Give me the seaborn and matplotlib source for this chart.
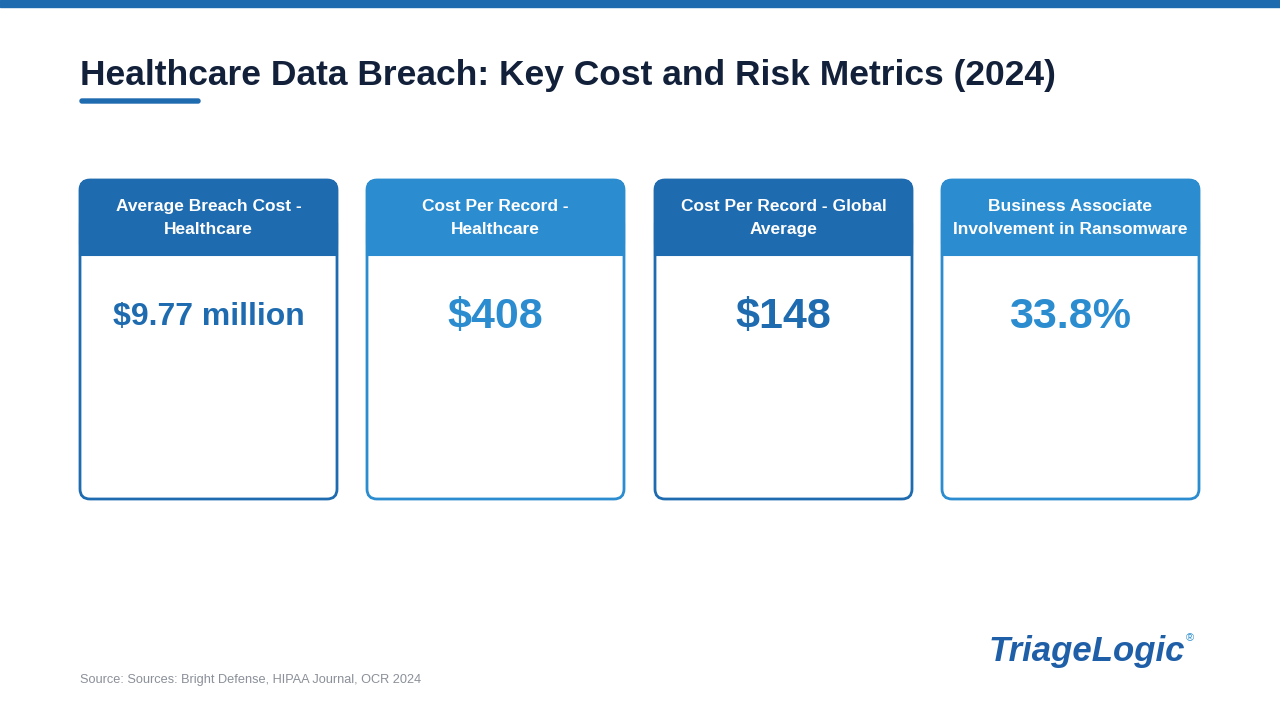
import matplotlib
matplotlib.use("Agg")
import matplotlib.pyplot as plt
import seaborn as sns
from matplotlib.patches import FancyBboxPatch, Rectangle

sns.set_theme(style="white")
plt.rcParams['font.family'] = ['Liberation Sans', 'DejaVu Sans']

titles = ["Average Breach Cost -\nHealthcare", "Cost Per Record -\nHealthcare",
          "Cost Per Record - Global\nAverage", "Business Associate\nInvolvement in Ransomware"]
values = ["$9.77 million", "$408", "$148", "33.8%"]
colors = ["#1f6bb0", "#2b8ccf", "#1f6bb0", "#2b8ccf"]
value_sizes = [23, 31, 31, 31]
card_left = [80, 367, 655, 942]

fig = plt.figure(figsize=(12.8, 7.2), dpi=100)
ax = fig.add_axes([0, 0, 1, 1])
ax.set_xlim(0, 1280); ax.set_ylim(720, 0); ax.axis("off")

ax.add_patch(Rectangle((0, 0), 1280, 7, color="#1f6bb0"))
ax.text(80, 76, "Healthcare Data Breach: Key Cost and Risk Metrics (2024)", fontsize=25.5,
        fontweight="bold", color="#12203a", va="center", ha="left")
ax.add_patch(FancyBboxPatch((80, 99), 120, 4, boxstyle="round,pad=0,rounding_size=2",
                            color="#1f6bb0"))

W, top, bot, hb = 257, 180, 499, 254
for x, t, v, c, s in zip(card_left, titles, values, colors, value_sizes):
    ax.add_patch(FancyBboxPatch((x, top), W, bot - top, boxstyle="round,pad=0,rounding_size=10",
                                facecolor="white", edgecolor=c, lw=2))
    ax.add_patch(FancyBboxPatch((x, top), W, hb - top, boxstyle="round,pad=0,rounding_size=10",
                                facecolor=c, edgecolor=c, lw=1.5))
    ax.add_patch(Rectangle((x, hb - 30), W, 31, facecolor=c, edgecolor=c, lw=1.5))
    ax.text(x + W / 2, 218, t, ha="center", va="center", fontsize=12.5, fontweight="bold",
            color="white", linespacing=1.7)
    ax.text(x + W / 2, 317, v, ha="center", va="center", fontsize=s, fontweight="bold", color=c)

ax.text(80, 680, "Source: Sources: Bright Defense, HIPAA Journal, OCR 2024", fontsize=9.2,
        color="#8a8f98", va="center")
ax.text(1185, 651, "TriageLogic", fontsize=25, fontweight="bold", style="italic",
        color="#1f5fa8", ha="right", va="center")
ax.text(1186, 638, "®", fontsize=8, color="#2b8ccf", ha="left", va="center")

fig.savefig("out.png", dpi=100)
